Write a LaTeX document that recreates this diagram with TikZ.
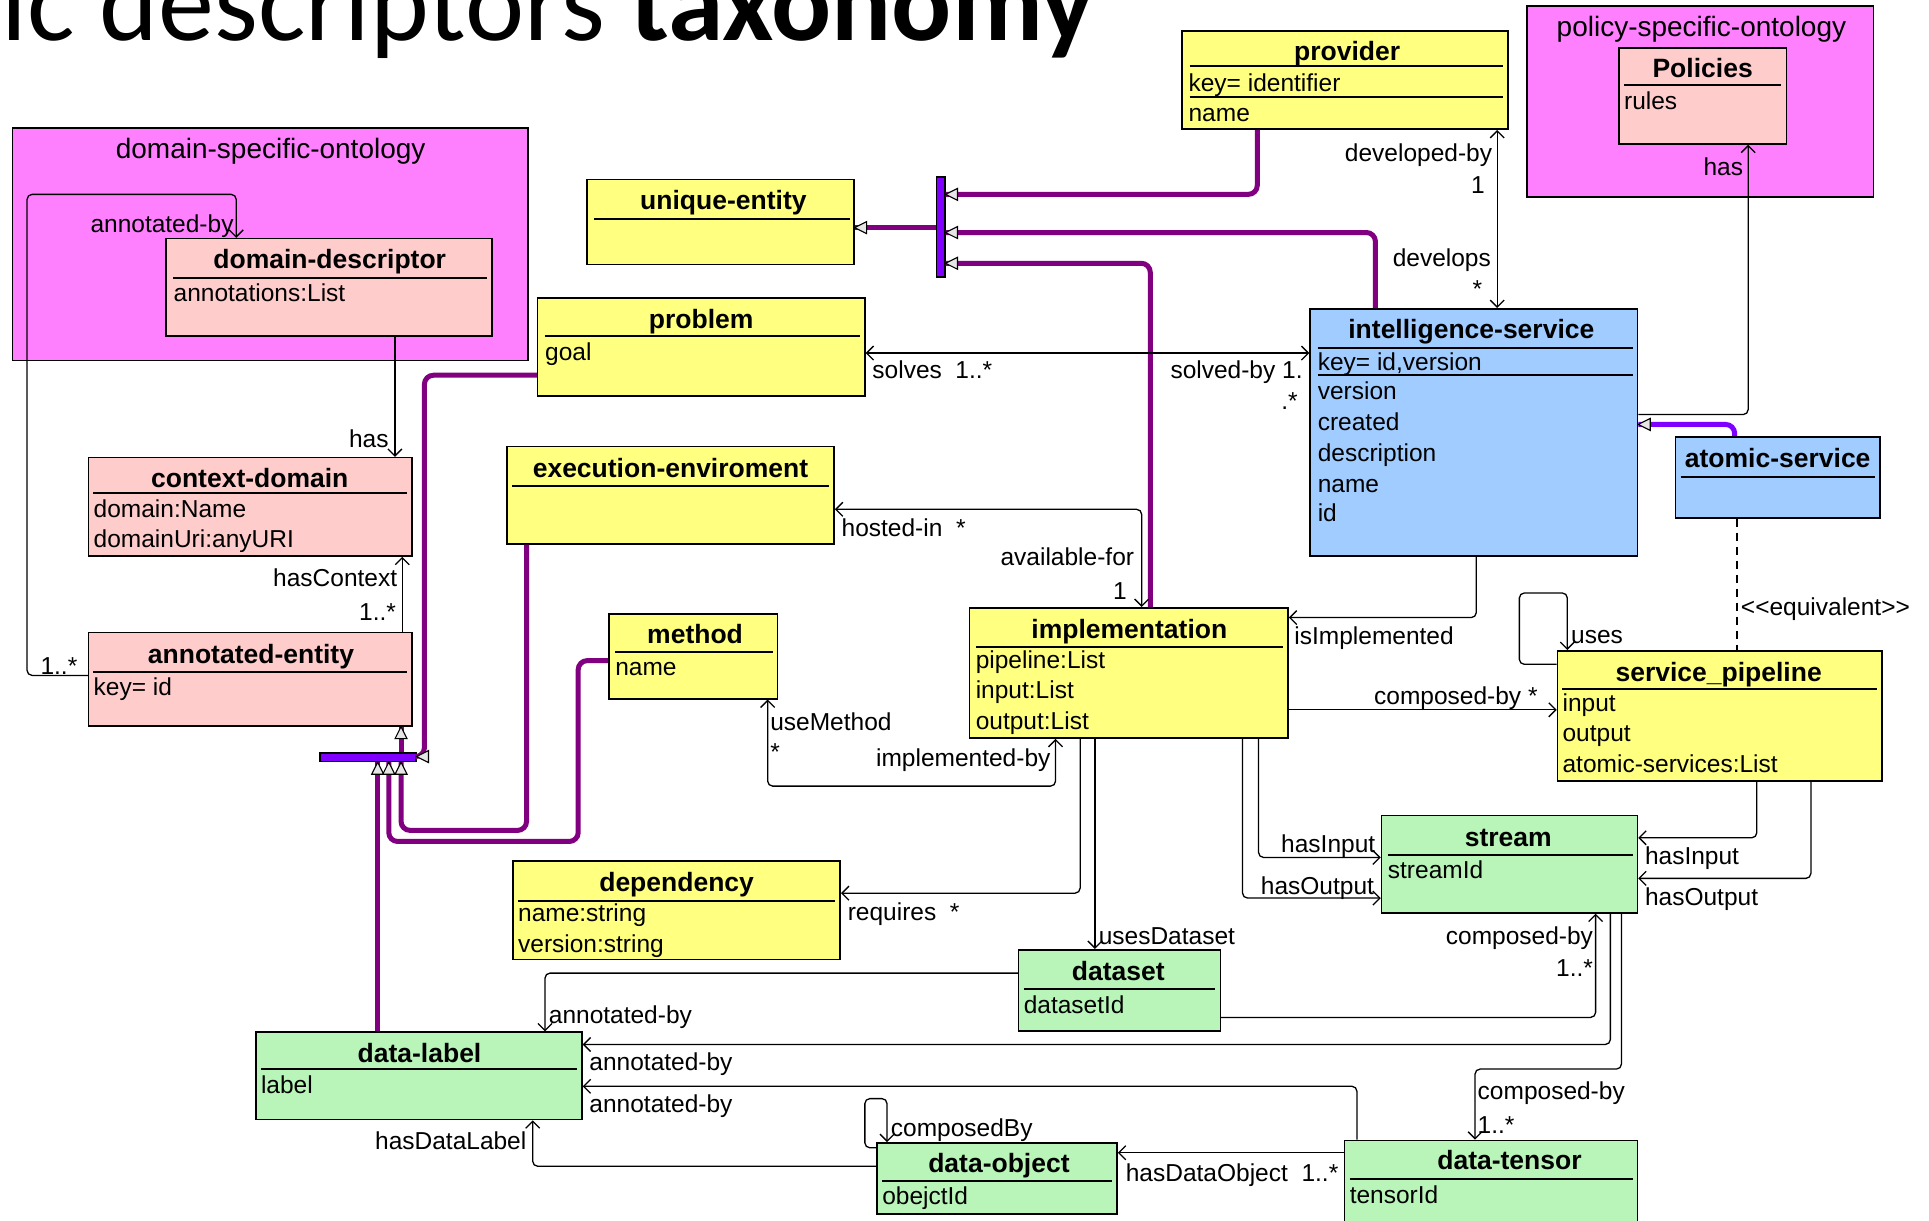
\documentclass[tikz,border=0pt]{standalone}
\usepackage{fontspec}
\setmainfont{Liberation Sans}
\newfontfamily\titlefont{Carlito}
\usetikzlibrary{arrows.meta,fit}
\definecolor{pkgc}{HTML}{FF80FF}
\definecolor{pinkc}{HTML}{FFCCCC}
\definecolor{yelc}{HTML}{FFFF80}
\definecolor{bluec}{HTML}{A0CCFF}
\definecolor{greenc}{HTML}{B9F5B9}
\definecolor{genc}{HTML}{800080}
\definecolor{barc}{HTML}{8000FF}
\definecolor{trif}{HTML}{E6E6E6}
\tikzset{
  oa/.tip={Straight Barb[length=7pt,width=14pt,line width=1.3pt]},
  cls/.style={draw=black, line width=1.6pt, inner sep=0pt},
  pkg/.style={draw=black, line width=1.6pt, fill=pkgc, inner sep=0pt},
  pkgl/.style={font=\fontsize{28}{32}\selectfont, inner sep=0pt, anchor=mid, yshift=-6pt},
  ttl/.style={font=\bfseries\fontsize{26.5}{30}\selectfont, inner sep=0pt, anchor=mid, yshift=-6pt},
  attr/.style={font=\fontsize{24.5}{28}\selectfont, inner sep=0pt, anchor=mid west, yshift=-6pt},
  lbl/.style={font=\fontsize{24.5}{28}\selectfont, inner sep=0pt, anchor=mid west, yshift=-6pt},
  lblr/.style={lbl, anchor=mid east},
  sep/.style={line width=2pt},
  assoc/.style={line width=1.3pt, rounded corners=5pt, -oa},
  both/.style={line width=1.3pt, rounded corners=5pt, oa-oa},
  gen/.style={draw=genc, line width=5pt, rounded corners=9pt},
  bar/.style={draw=black, line width=1.4pt, fill=barc, inner sep=0pt},
  ltri/.pic={\draw[black, fill=trif, line width=1.1pt] (0,0) -- (12pt,-6pt) -- (12pt,6pt) -- cycle;}
}
\begin{document}
\begin{tikzpicture}[x=1.2302pt,y=-1.2302pt]
\useasboundingbox (0,0) rectangle (1568,992);
\fill[white] (0,0) rectangle (1568,992);

% title
\node[anchor=base west, inner sep=0pt, font=\titlefont\fontsize{112}{120}\selectfont] (title) at (1,33) {ic descriptors \textbf{taxonomy}};

% packages
\node[pkg, fit={(10,104)(429,293)}] (dso) {};
\node[pkgl] (dsol) at (220,122) {domain-specific-ontology};
\node[pkg, fit={(1241,5)(1523,160)}] (pso) {};
\node[pkgl] (psol) at (1383,23) {policy-specific-ontology};

% domain-descriptor
\node[cls, fill=pinkc, fit={(135,194)(400,273)}] (ddesc) {};
\node[ttl] (ddesct) at (268,211) {domain-descriptor};
\draw[sep] (141,226) -- (396,226);
\node[attr] (ddesca) at (141,238) {annotations:List};

% Policies
\node[cls, fill=pinkc, fit={(1316,39)(1452,117)}] (pol) {};
\node[ttl] (polt) at (1384,56) {Policies};
\draw[sep] (1320,69) -- (1448,69);
\node[attr] (pola) at (1320,82) {rules};

% provider
\node[cls, fill=yelc, fit={(961,25)(1226,105)}] (prov) {};
\node[ttl] (provt) at (1095,42) {provider};
\draw[sep] (967,54) -- (1222,54);
\node[attr] (prova) at (966,67) {key= identifier};
\draw[sep] (967,79) -- (1222,79);
\node[attr] (provb) at (966,92) {name};

% unique-entity
\node[cls, fill=yelc, fit={(477,146)(694,215)}] (uniq) {};
\node[ttl] (uniqt) at (588,163) {unique-entity};
\draw[sep] (483,178) -- (691,178);

% problem
\node[cls, fill=yelc, fit={(437,242)(703,322)}] (prob) {};
\node[ttl] (probt) at (570,260) {problem};
\draw[sep] (443,273) -- (699,273);
\node[attr] (proba) at (443,286) {goal};

% intelligence-service
\node[cls, fill=bluec, fit={(1065,251)(1331,452)}] (intel) {};
\node[ttl] (intelt) at (1196,268) {intelligence-service};
\draw[sep] (1071,283) -- (1327,283);
\node[attr] (intela) at (1071,294) {key= id,version};
\draw[sep] (1071,305) -- (1327,305);
\node[attr] (intelb) at (1071,318) {version};
\node[attr] (intelc) at (1071,343) {created};
\node[attr] (inteld) at (1071,368) {description};
\node[attr] (intele) at (1071,393) {name};
\node[attr] (intelf) at (1071,417) {id};

% atomic-service
\node[cls, fill=bluec, fit={(1362,355)(1528,421)}] (atom) {};
\node[ttl] (atomt) at (1445,373) {atomic-service};
\draw[sep] (1366,388) -- (1524,388);

% context-domain
\node[cls, fill=pinkc, fit={(72,372)(335,452)}] (ctx) {};
\node[ttl] (ctxt) at (203,389) {context-domain};
\draw[sep] (76,401) -- (331,401);
\node[attr] (ctxa) at (76,414) {domain:Name};
\node[attr] (ctxb) at (76,438) {domainUri:anyURI};

% execution-enviroment
\node[cls, fill=yelc, fit={(412,363)(678,442)}] (exec) {};
\node[ttl] (exect) at (545,381) {execution-enviroment};
\draw[sep] (416,395) -- (674,395);

% annotated-entity
\node[cls, fill=pinkc, fit={(72,514)(335,590)}] (annot) {};
\node[ttl] (annott) at (204,532) {annotated-entity};
\draw[sep] (76,546) -- (331,546);
\node[attr] (annota) at (76,558) {key= id};

% method
\node[cls, fill=yelc, fit={(495,499)(632,568)}] (meth) {};
\node[ttl] (metht) at (565,516) {method};
\draw[sep] (500,530) -- (628,530);
\node[attr] (metha) at (500,542) {name};

% implementation
\node[cls, fill=yelc, fit={(788,494)(1047,600)}] (impl) {};
\node[ttl] (implt) at (918,512) {implementation};
\draw[sep] (793,526) -- (1043,526);
\node[attr] (impla) at (793,536) {pipeline:List};
\node[attr] (implb) at (793,561) {input:List};
\node[attr] (implc) at (793,586) {output:List};

% service_pipeline
\node[cls, fill=yelc, fit={(1266,529)(1530,635)}] (pipe) {};
\node[ttl] (pipet) at (1397,547) {service\_pipeline};
\draw[sep] (1270,560) -- (1526,560);
\node[attr] (pipea) at (1270,571) {input};
\node[attr] (pipeb) at (1270,596) {output};
\node[attr] (pipec) at (1270,621) {atomic-services:List};

% stream
\node[cls, fill=greenc, fit={(1123,663)(1331,742)}] (strm) {};
\node[ttl] (strmt) at (1226,681) {stream};
\draw[sep] (1128,695) -- (1327,695);
\node[attr] (strma) at (1128,707) {streamId};

% dependency
\node[cls, fill=yelc, fit={(417,700)(683,780)}] (dep) {};
\node[ttl] (dept) at (550,718) {dependency};
\draw[sep] (421,732) -- (679,732);
\node[attr] (depa) at (421,742) {name:string};
\node[attr] (depb) at (421,767) {version:string};

% dataset
\node[cls, fill=greenc, fit={(828,772)(992,838)}] (dset) {};
\node[ttl] (dsett) at (909,790) {dataset};
\draw[sep] (832,804) -- (988,804);
\node[attr] (dseta) at (832,817) {datasetId};

% data-label
\node[cls, fill=greenc, fit={(208,839)(473,910)}] (dlab) {};
\node[ttl] (dlabt) at (341,857) {data-label};
\draw[sep] (212,869) -- (469,869);
\node[attr] (dlaba) at (212,882) {label};

% data-object
\node[cls, fill=greenc, fit={(713,929)(908,987)}] (dobj) {};
\node[ttl] (dobjt) at (812,946) {data-object};
\draw[sep] (717,960) -- (904,960);
\node[attr] (dobja) at (717,972) {obejctId};

% data-tensor
\node[cls, fill=greenc, fit={(1093,927)(1331,998)}] (dten) {};
\node[ttl] (dtent) at (1227,944) {data-tensor};
\draw[sep] (1097,958) -- (1327,958);
\node[attr] (dtena) at (1097,971) {tensorId};

% ---------- generalization ----------
\node[bar, fit={(761,144)(768,225)}] (vbar) {};
\node[bar, fit={(260,612)(338,619)}] (hbar) {};
\draw[gen] (vbar.west |- 0,185) -- (uniq.east |- 0,185);
\draw[gen] (prov.south -| 1022,0) -- (1022,158) -- (vbar.east |- 0,158);
\draw[gen] (intel.north -| 1118,0) -- (1118,189) -- (vbar.east |- 0,189);
\draw[gen] (impl.north -| 935,0) -- (935,214) -- (vbar.east |- 0,214);
\draw[gen] (hbar.north -| 326,0) -- (annot.south -| 326,0);
\draw[gen] (prob.west |- 0,305) -- (345,305) -- (345,615) -- (hbar.east |- 0,615);
\draw[gen] (dlab.north -| 307,0) -- (hbar.south -| 307,0);
\draw[gen] (meth.west |- 0,537) -- (470,537) -- (470,684) -- (316,684) -- (hbar.south -| 316,0);
\draw[gen] (exec.south -| 428,0) -- (428,675) -- (326,675) -- (hbar.south -| 326,0);
\draw[gen, draw=barc] (atom.north -| 1410,0) -- (1410,345) -- (intel.east |- 0,345);
\pic at (uniq.east |- 0,185) {ltri};
\pic at (vbar.east |- 0,158) {ltri};
\pic at (vbar.east |- 0,189) {ltri};
\pic at (vbar.east |- 0,214) {ltri};
\pic at (hbar.east |- 0,615) {ltri};
\pic[rotate=-90] at (annot.south -| 326,0) {ltri};
\pic[rotate=-90] at (hbar.south -| 307,0) {ltri};
\pic[rotate=-90] at (hbar.south -| 316,0) {ltri};
\pic[rotate=-90] at (hbar.south -| 326,0) {ltri};
\pic at (intel.east |- 0,345) {ltri};

% ---------- associations ----------
\draw[assoc] (annot.west |- 0,549) -- (22,549) -- (22,158) -- (192,158) -- (ddesc.north -| 192,0);
\draw[assoc] (ddesc.south -| 321,0) -- (ctx.north -| 321,0);
\draw[assoc] (annot.north -| 327,0) -- (ctx.south -| 327,0);
\draw[both] (prob.east |- 0,287) -- (intel.west |- 0,287);
\draw[both] (prov.south -| 1217,0) -- (intel.north -| 1217,0);
\draw[assoc] (intel.east |- 0,337) -- (1421,337) -- (pol.south -| 1421,0);
\draw[line width=1.3pt, dash pattern=on 8pt off 6pt] (atom.south -| 1412,0) -- (pipe.north -| 1412,0);
\draw[assoc] (intel.south -| 1200,0) -- (1200,502) -- (impl.east |- 0,502);
\draw[both] (impl.north -| 928,0) -- (928,414) -- (exec.east |- 0,414);
\draw[assoc] (impl.east |- 0,577) -- (pipe.west |- 0,577);
\draw[assoc] (pipe.west |- 0,540) -- (1235,540) -- (1235,482) -- (1274,482) -- (pipe.north -| 1274,0);
\draw[both] (meth.south -| 624,0) -- (624,639) -- (858,639) -- (impl.south -| 858,0);
\draw[assoc] (impl.south -| 878,0) -- (878,726) -- (dep.east |- 0,726);
\draw[assoc] (impl.south -| 890,0) -- (dset.north -| 890,0);
\draw[assoc] (impl.south -| 1023,0) -- (1023,697) -- (strm.west |- 0,697);
\draw[assoc] (impl.south -| 1010,0) -- (1010,730) -- (strm.west |- 0,730);
\draw[assoc] (pipe.south -| 1428,0) -- (1428,681) -- (strm.east |- 0,681);
\draw[assoc] (pipe.south -| 1472,0) -- (1472,714) -- (strm.east |- 0,714);
\draw[assoc] (dset.east |- 0,827) -- (1297,827) -- (strm.south -| 1297,0);
\draw[assoc] (strm.south -| 1309,0) -- (1309,849) -- (dlab.east |- 0,849);
\draw[assoc] (dset.west |- 0,791) -- (443,791) -- (dlab.north -| 443,0);
\draw[assoc] (dten.north -| 1103,0) -- (1103,883) -- (dlab.east |- 0,883);
\draw[assoc] (strm.south -| 1318,0) -- (1318,869) -- (1199,869) -- (dten.north -| 1199,0);
\draw[assoc] (dten.west |- 0,937) -- (dobj.east |- 0,937);
\draw[assoc] (dobj.west |- 0,933) -- (703,933) -- (703,893) -- (721,893) -- (dobj.north -| 721,0);
\draw[assoc] (dobj.west |- 0,948) -- (433,948) -- (dlab.south -| 433,0);

% ---------- labels ----------
\node[lblr] (l1) at (190,182) {annotated-by};
\node[lblr] (l2) at (63,541) {1..*};
\node[lblr] (l3) at (316,357) {has};
\node[lblr] (l4) at (323,470) {hasContext};
\node[lblr] (l5) at (322,497) {1..*};
\node[lbl] (l6) at (709,301) {solves\ \ 1..*};
\node[lblr] (l7) at (1059,301) {solved-by 1.};
\node[lblr] (l8) at (1055,326) {.*};
\node[lblr] (l9) at (1213,124) {developed-by};
\node[lblr] (l10) at (1207,150) {1};
\node[lblr] (l11) at (1212,210) {develops};
\node[lblr] (l12) at (1205,235) {*};
\node[lblr] (l13) at (1417,136) {has};
\node[lbl] (l14) at (1415,493) {<{}<equivalent>{}>};
\node[lbl] (l15) at (1052,517) {isImplemented};
\node[lbl] (l16) at (684,429) {hosted-in\ \ *};
\node[lblr] (l17) at (922,453) {available-for};
\node[lblr] (l18) at (916,480) {1};
\node[lblr] (l19) at (1250,566) {composed-by *};
\node[lbl] (l20) at (1277,516) {uses};
\node[lbl] (l21) at (626,587) {useMethod};
\node[lbl] (l22) at (626,611) {*};
\node[lblr] (l23) at (854,616) {implemented-by};
\node[lbl] (l24) at (689,741) {requires\ \ *};
\node[lbl] (l25) at (893,761) {usesDataset};
\node[lblr] (l26) at (1118,686) {hasInput};
\node[lblr] (l27) at (1117,720) {hasOutput};
\node[lbl] (l28) at (1337,696) {hasInput};
\node[lbl] (l29) at (1337,729) {hasOutput};
\node[lblr] (l30) at (1295,761) {composed-by};
\node[lblr] (l31) at (1295,787) {1..*};
\node[lbl] (l32) at (479,863) {annotated-by};
\node[lbl] (l33) at (446,825) {annotated-by};
\node[lbl] (l34) at (479,897) {annotated-by};
\node[lbl] (l35) at (1201,887) {composed-by};
\node[lbl] (l36) at (1201,914) {1..*};
\node[lbl] (l37) at (915,953) {hasDataObject\ \ 1..*};
\node[lbl] (l38) at (724,917) {composedBy};
\node[lblr] (l39) at (428,927) {hasDataLabel};
\end{tikzpicture}
\end{document}
